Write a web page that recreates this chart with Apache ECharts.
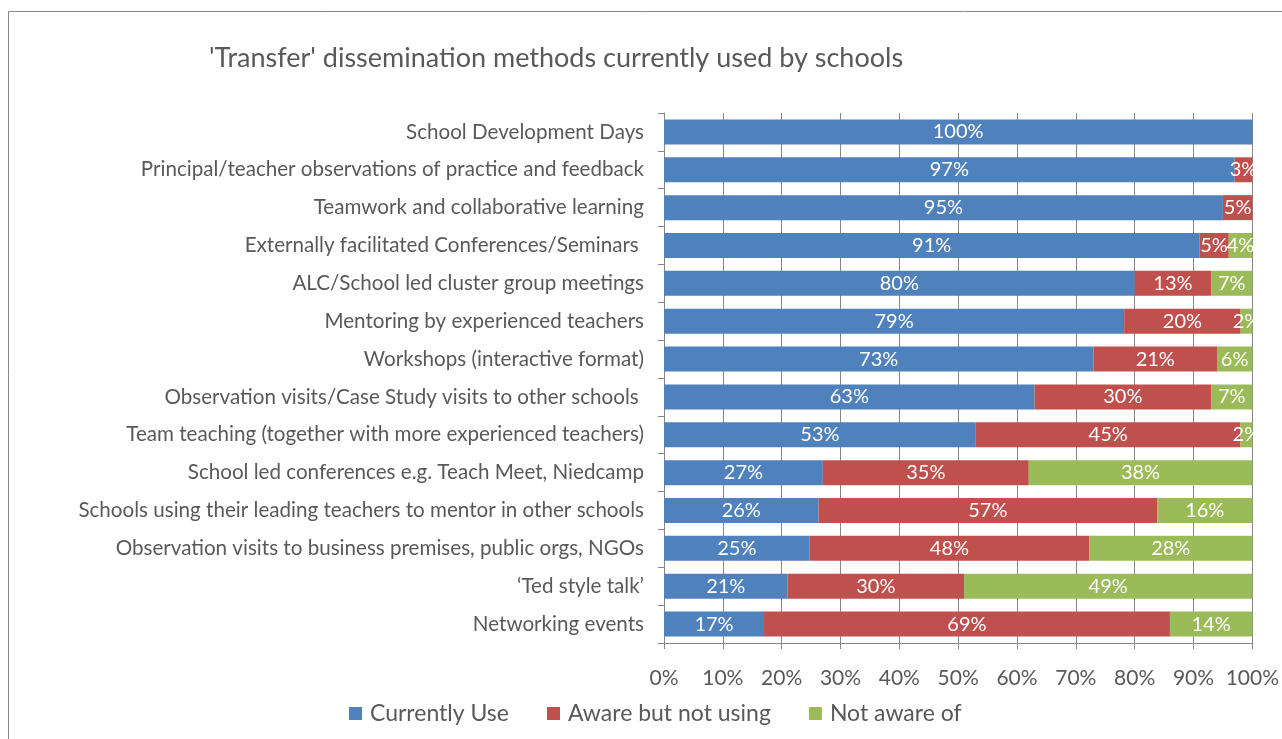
<!DOCTYPE html>
<html>
<head>
<meta charset="utf-8">
<script src="https://cdn.jsdelivr.net/npm/echarts@6/dist/echarts.min.js"></script>
<style>
html,body{margin:0;padding:0;background:#fff;}
#chart{width:1282px;height:739px;}
</style>
</head>
<body>
<div id="chart"></div>
<script>
const categories = [
  "School Development Days",
  "Principal/teacher observations of practice and feedback",
  "Teamwork and collaborative learning",
  "Externally facilitated Conferences/Seminars ",
  "ALC/School led cluster group meetings",
  "Mentoring by experienced teachers",
  "Workshops (interactive format)",
  "Observation visits/Case Study visits to other schools ",
  "Team teaching (together with more experienced teachers)",
  "School led conferences e.g. Teach Meet, Niedcamp",
  "Schools using their leading teachers to mentor in other schools",
  "Observation visits to business premises, public orgs, NGOs",
  "\u2018Ted style talk\u2019",
  "Networking events"
];
const currentlyUse   = [100, 97, 95, 91, 80, 79, 73, 63, 53, 27, 26, 25, 21, 17];
const awareNotUsing  = [0,   3,  5,  5,  13, 20, 21, 30, 45, 35, 57, 48, 30, 69];
const notAwareOf     = [0,   0,  0,  4,  7,  2,  6,  7,  2,  38, 16, 28, 49, 14];
const seriesNames = ["Currently Use", "Aware but not using", "Not aware of"];
const xTicks = { min: 0, max: 100, interval: 10 };

const totals = categories.map((c, i) => currentlyUse[i] + awareNotUsing[i] + notAwareOf[i]);
function toData(arr) {
  return arr.map((v, i) => ({ value: v / totals[i] * 100, raw: v }));
}
const colors = ["#4F81BD", "#C0504D", "#9BBB59"];
const FONT = "Lato";
const chart = echarts.init(document.getElementById('chart'));

function mkSeries(name, arr, color) {
  return {
    name: name,
    type: 'bar',
    stack: 'total',
    barCategoryGap: '34%',
    itemStyle: { color: color },
    label: {
      show: true,
      position: 'inside',
      color: '#fff',
      fontFamily: FONT,
      fontSize: 20,
      formatter: p => (p.data.raw > 0 ? p.data.raw + '%' : '')
    },
    data: toData(arr)
  };
}

chart.setOption({
  animation: false,
  color: colors,
  title: {
    text: "'Transfer' dissemination methods currently used by schools",
    left: 204,
    top: 40,
    textStyle: { fontFamily: FONT, fontSize: 27, fontWeight: 'normal', color: '#595959' }
  },
  graphic: [{
    type: 'rect',
    shape: { x: 8.5, y: 11.5, width: 1300, height: 760 },
    style: { fill: 'none', stroke: '#888888', lineWidth: 1 },
    silent: true, z: -10
  }],
  legend: {
    left: 344,
    top: 697,
    itemWidth: 13,
    itemHeight: 13,
    itemGap: 38,
    icon: 'rect',
    textStyle: { fontFamily: FONT, fontSize: 23, color: '#595959', padding: [0, 0, 0, 3] },
    data: seriesNames
  },
  grid: { left: 664, right: 29, top: 113, bottom: 96, containLabel: false },
  xAxis: {
    type: 'value',
    min: xTicks.min, max: xTicks.max, interval: xTicks.interval,
    axisLine: { show: true, lineStyle: { color: '#868686' } },
    axisTick: { show: true, length: 6, lineStyle: { color: '#868686' } },
    splitLine: { show: true, lineStyle: { color: '#868686', width: 1 } },
    axisLabel: { formatter: '{value}%', fontFamily: FONT, fontSize: 21, color: '#595959', margin: 25 }
  },
  yAxis: {
    type: 'category',
    inverse: true,
    data: categories,
    axisLine: { show: true, lineStyle: { color: '#868686' } },
    axisTick: { show: true, length: 6, lineStyle: { color: '#868686' } },
    axisLabel: { fontFamily: FONT, fontSize: 20.6, color: '#595959', margin: 20 }
  },
  series: [
    mkSeries(seriesNames[0], currentlyUse, colors[0]),
    mkSeries(seriesNames[1], awareNotUsing, colors[1]),
    mkSeries(seriesNames[2], notAwareOf, colors[2])
  ]
});
</script>
</body>
</html>
